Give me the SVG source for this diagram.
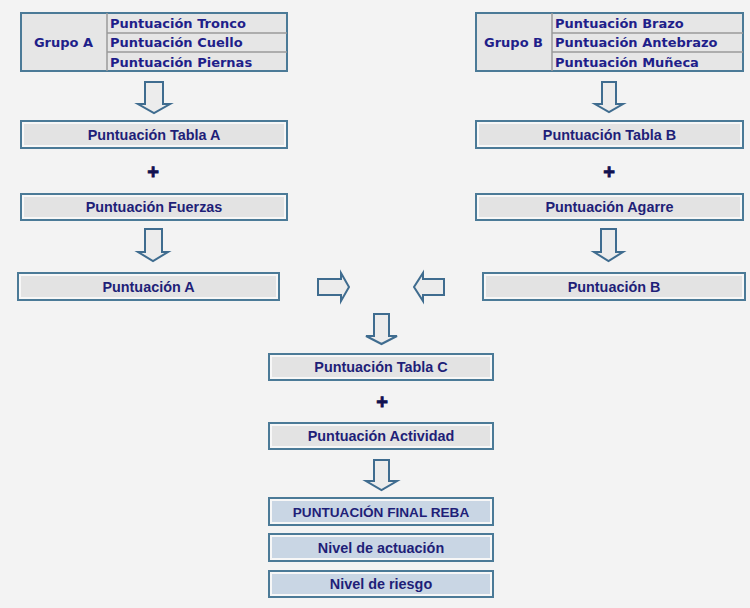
<svg xmlns="http://www.w3.org/2000/svg" width="750" height="608" viewBox="0 0 750 608">
<defs>
<style>
.bg{fill:#f3f3f3}
.ob{fill:#f7f7f7;stroke:#4b7a97;stroke-width:2}
.ib{fill:#e3e3e3}
.ibf{fill:#c9d6e4}
.tbl{fill:#e6e6e6;stroke:#4b7a97;stroke-width:2}
.sep{stroke:#9a9a9a;stroke-width:1.5;fill:none}
.t{font-family:"Liberation Sans",Arial,sans-serif;font-weight:bold;font-size:14.4px;fill:#1f1f78;text-anchor:middle}
.tc{font-size:13.6px}
.tv{font-family:"DejaVu Sans",Verdana,sans-serif;font-weight:bold;font-size:13px;fill:#1f1f8a}
.plus{font-family:"Liberation Sans",Arial,sans-serif;font-weight:bold;font-size:20px;fill:#111150;stroke:#111150;stroke-width:0.8;text-anchor:middle}
.arr{fill:#ececec;stroke:#3f6c8f;stroke-width:2;stroke-linejoin:miter}
</style>
</defs>
<rect class="bg" x="0" y="0" width="750" height="608"/>

<g id="grupoA">
<rect class="tbl" x="21" y="13" width="266" height="58"/>
<line class="sep" x1="107" y1="13" x2="107" y2="71"/>
<line class="sep" x1="107" y1="33" x2="287" y2="33"/>
<line class="sep" x1="107" y1="52" x2="287" y2="52"/>
<text class="tv" x="63.5" y="47" text-anchor="middle">Grupo A</text>
<text class="tv" x="110" y="27.5">Puntuación Tronco</text>
<text class="tv" x="110" y="47">Puntuación Cuello</text>
<text class="tv" x="110" y="66.5">Puntuación Piernas</text>
</g>

<g id="grupoB">
<rect class="tbl" x="476" y="13" width="267" height="58"/>
<line class="sep" x1="552" y1="13" x2="552" y2="71"/>
<line class="sep" x1="552" y1="33" x2="743" y2="33"/>
<line class="sep" x1="552" y1="52" x2="743" y2="52"/>
<text class="tv" x="513.5" y="47" text-anchor="middle">Grupo B</text>
<text class="tv" x="555" y="27.5">Puntuación Brazo</text>
<text class="tv" x="555" y="47">Puntuación Antebrazo</text>
<text class="tv" x="555" y="66.5">Puntuación Muñeca</text>
</g>

<g id="tablaA">
<rect class="ob" x="21" y="121" width="266" height="27"/>
<rect class="ib" x="24" y="124" width="260" height="21"/>
<text class="t" x="154" y="140">Puntuación Tabla A</text>
</g>
<g id="plusA"><text class="plus" x="153" y="179">+</text></g>
<g id="fuerzas">
<rect class="ob" x="21" y="194" width="266" height="26"/>
<rect class="ib" x="24" y="197" width="260" height="20"/>
<text class="t" x="154" y="212">Puntuación Fuerzas</text>
</g>
<g id="puntA">
<rect class="ob" x="18" y="273" width="261" height="27"/>
<rect class="ib" x="21" y="276" width="255" height="21"/>
<text class="t" x="148.5" y="292">Puntuación A</text>
</g>

<g id="tablaB">
<rect class="ob" x="476" y="121" width="267" height="27"/>
<rect class="ib" x="479" y="124" width="261" height="21"/>
<text class="t" x="609.5" y="140">Puntuación Tabla B</text>
</g>
<g id="plusB"><text class="plus" x="609" y="179">+</text></g>
<g id="agarre">
<rect class="ob" x="476" y="194" width="267" height="26"/>
<rect class="ib" x="479" y="197" width="261" height="20"/>
<text class="t" x="609.5" y="212">Puntuación Agarre</text>
</g>
<g id="puntB">
<rect class="ob" x="483" y="273" width="262" height="27"/>
<rect class="ib" x="486" y="276" width="256" height="21"/>
<text class="t" x="614" y="292">Puntuación B</text>
</g>

<g id="tablaC">
<rect class="ob" x="269" y="354" width="224" height="26"/>
<rect class="ib" x="272" y="357" width="218" height="20"/>
<text class="t" x="381" y="372">Puntuación Tabla C</text>
</g>
<g id="plusC"><text class="plus" x="382" y="409">+</text></g>
<g id="actividad">
<rect class="ob" x="269" y="423" width="224" height="26"/>
<rect class="ib" x="272" y="426" width="218" height="20"/>
<text class="t" x="381" y="441">Puntuación Actividad</text>
</g>
<g id="final">
<rect class="ob" x="269" y="498" width="224" height="27"/>
<rect class="ibf" x="272" y="501" width="218" height="21"/>
<text class="t tc" x="381" y="517">PUNTUACIÓN FINAL REBA</text>
</g>
<g id="actuacion">
<rect class="ob" x="269" y="534" width="224" height="27"/>
<rect class="ibf" x="272" y="537" width="218" height="21"/>
<text class="t" x="381" y="553">Nivel de actuación</text>
</g>
<g id="riesgo">
<rect class="ob" x="269" y="571" width="224" height="26"/>
<rect class="ibf" x="272" y="574" width="218" height="20"/>
<text class="t" x="381" y="589">Nivel de riesgo</text>
</g>

<g id="connectors">
<polygon class="arr" points="145,82 163,82 163,104 170,104 154,113 138,104 145,104"/>
<polygon class="arr" points="602,82 616,82 616,104 623,104 609,112 595,104 602,104"/>
<polygon class="arr" points="145,229 162,229 162,252 168,252 153,261 138,252 145,252"/>
<polygon class="arr" points="601,229 616,229 616,252 623,252 608.5,261 594,252 601,252"/>
<polygon class="arr" points="318,279 341,279 341,273 349,287 341,301 341,295 318,295"/>
<polygon class="arr" points="444,279 423,279 423,273 414,287 423,301 423,295 444,295"/>
<polygon class="arr" points="374,314 389,314 389,336 397,336 381.5,344 366,336 374,336"/>
<polygon class="arr" points="374,460 389,460 389,481 397,481 381.5,490 366,481 374,481"/>
</g>
</svg>
